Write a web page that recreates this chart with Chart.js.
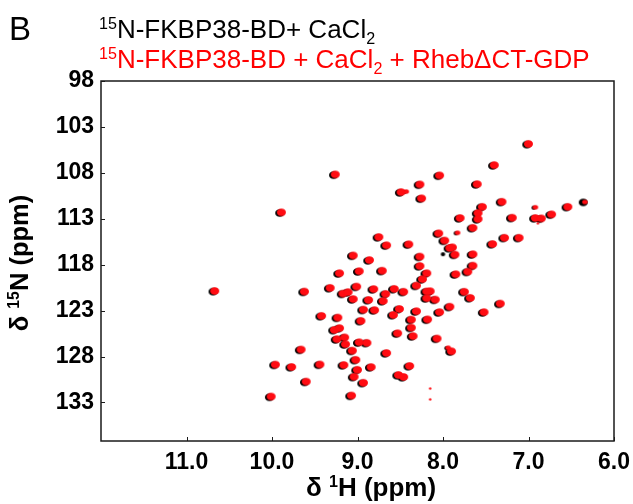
<!DOCTYPE html>
<html>
<head>
<meta charset="utf-8">
<script src="https://cdn.jsdelivr.net/npm/chart.js@4/dist/chart.umd.min.js"></script>
<style>
  html, body { margin: 0; padding: 0; background: #fff; }
  #wrap { width: 633px; height: 504px; }
</style>
</head>
<body>
<div id="wrap"><canvas id="c" width="633" height="504"></canvas></div>
<script>
// ---------- DATA (δ1H ppm, δ15N ppm) ----------
// Red spectrum: 15N-FKBP38-BD + CaCl2 + RhebΔCT-GDP
const redPeaks = [
  [7.00,104.85],[7.40,107.16],[9.26,108.17],[8.04,108.28],[8.27,109.26],[7.60,109.23],[8.49,110.10],[8.25,110.78],
  [7.31,111.15],[7.54,111.70],[6.54,111.70],[7.80,112.92],[7.59,112.38],[7.59,113.03],[7.19,112.89],[6.92,112.92],
  [6.85,112.96],[6.73,112.52],[9.89,112.30],[8.05,114.59],[7.65,113.99],[7.98,115.37],[8.75,114.99],[8.66,115.89],
  [8.40,115.78],[7.92,116.18],[7.89,116.11],[7.28,115.07],[7.11,115.07],[7.42,115.75],[7.86,116.90],[7.65,116.86],
  [9.05,117.00],[8.86,117.50],[8.27,117.12],[8.27,118.15],[7.65,118.11],[9.21,118.93],[8.98,118.71],[8.71,118.66],
  [8.19,118.93],[7.85,119.04],[7.71,118.76],[8.24,119.58],[8.31,120.28],[8.19,120.92],[8.15,120.89],[7.75,120.95],
  [7.68,121.62],[9.32,120.53],[9.17,121.15],[9.11,120.99],[9.01,120.39],[8.81,120.66],[8.67,121.18],[8.57,120.64],
  [8.46,120.95],[9.05,121.75],[8.87,121.84],[8.70,121.95],[8.19,121.65],[8.09,121.80],[9.62,120.93],[10.67,120.86],
  [8.93,122.90],[8.80,122.95],[8.51,122.82],[8.31,123.07],[8.04,123.17],[7.92,122.58],[8.58,123.47],[9.42,123.58],
  [9.23,123.76],[8.96,124.12],[8.37,123.98],[8.18,123.96],[8.37,124.86],[9.27,125.10],[9.21,124.91],[8.53,125.47],
  [8.35,125.78],[8.07,126.04],[9.24,126.11],[9.15,125.92],[9.14,126.66],[8.98,126.45],[8.89,126.51],[7.90,127.43],
  [9.06,127.36],[9.66,127.24],[8.66,127.62],[9.02,128.36],[9.96,128.88],[9.77,129.14],[9.44,128.87],[9.16,128.93],
  [8.84,129.15],[8.39,129.03],[9.00,129.45],[9.04,130.21],[8.52,130.01],[8.46,130.23],[8.93,130.86],[9.60,130.73],
  [10.01,132.36],[9.07,132.25],[7.33,122.24],[7.52,123.17]
];
const redWeakPeaks = [[8.43,110.04],[6.92,111.75],[6.34,111.18],[7.83,114.53],[7.94,127.05]];
const redTracePeaks = [[6.89,113.50],[8.15,131.49],[8.15,132.67]];

// Black spectrum: 15N-FKBP38-BD + CaCl2
const blackPeaks = [
  [7.02,104.93],[7.42,107.24],[9.28,108.25],[8.06,108.36],[8.29,109.34],[7.62,109.31],[8.51,110.18],[8.27,110.86],
  [7.33,111.23],[7.56,111.78],[6.56,111.78],[7.82,113.00],[7.61,112.46],[7.61,113.11],[7.21,112.97],[6.94,113.00],
  [6.87,113.04],[6.75,112.60],[9.91,112.38],[8.07,114.67],[7.67,114.07],[8.00,115.45],[8.77,115.07],[8.68,115.97],
  [8.42,115.86],[7.94,116.26],[7.91,116.19],[7.30,115.15],[7.13,115.15],[7.44,115.83],[7.88,116.98],[7.67,116.94],
  [9.07,117.08],[8.88,117.58],[8.29,117.20],[8.29,118.23],[7.67,118.19],[9.23,119.01],[9.00,118.79],[8.73,118.74],
  [8.21,119.01],[7.87,119.12],[7.73,118.84],[8.26,119.66],[8.33,120.36],[8.21,121.00],[8.17,120.97],[7.77,121.03],
  [7.70,121.70],[9.34,120.61],[9.19,121.23],[9.13,121.07],[9.03,120.47],[8.83,120.74],[8.69,121.26],[8.59,120.72],
  [8.48,121.03],[9.07,121.83],[8.89,121.92],[8.72,122.03],[8.21,121.73],[8.11,121.88],[9.64,121.01],[10.69,120.94],
  [8.95,122.98],[8.82,123.03],[8.53,122.90],[8.33,123.15],[8.06,123.25],[7.94,122.66],[8.60,123.55],[9.44,123.66],
  [9.25,123.84],[8.98,124.20],[8.39,124.06],[8.20,124.04],[8.39,124.94],[9.29,125.18],[9.23,124.99],[8.55,125.55],
  [8.37,125.86],[8.09,126.12],[9.26,126.19],[9.17,126.00],[9.16,126.74],[9.00,126.53],[8.91,126.59],[7.92,127.51],
  [9.08,127.44],[9.68,127.32],[8.68,127.70],[9.04,128.44],[9.98,128.96],[9.79,129.22],[9.46,128.95],[9.18,129.01],
  [8.86,129.23],[8.41,129.11],[9.02,129.53],[9.06,130.29],[8.54,130.09],[8.48,130.31],[8.95,130.94],[9.62,130.81],
  [10.03,132.44],[9.09,132.33],[7.35,122.32],[7.54,123.25],[6.36,111.22]
];
const blackWeakPeaks = [[8.45,110.08],[6.94,111.80],[7.85,114.58],[7.96,127.10],[8.00,116.86]];

const xTickValues = [11, 10, 9, 8, 7, 6];
const xTickLabels = ['11.0', '10.0', '9.0', '8.0', '7.0', '6.0'];
const yTickValues = [98, 103, 108, 113, 118, 123, 128, 133];
const yTickLabels = ['98', '103', '108', '113', '118', '123', '128', '133'];

const panelLabel = 'B';
const legendBlack = [{t:'15', sup:true}, {t:'N-FKBP38-BD+ CaCl'}, {t:'2', sub:true}];
const legendRed = [{t:'15', sup:true}, {t:'N-FKBP38-BD + CaCl'}, {t:'2', sub:true}, {t:' + Rheb\u0394CT-GDP'}];
const xTitle = [{t:'\u03b4 '}, {t:'1', sup:true}, {t:'H (ppm)'}];
const yTitle = [{t:'\u03b4 '}, {t:'15', sup:true}, {t:'N (ppm)'}];

// ---------- STYLE ----------
const FAM = '"Liberation Sans", Arial, Helvetica, sans-serif';
const RED = 'rgb(255,12,18)';

function ellipse(w, h, color) {
  const c = document.createElement('canvas');
  c.width = Math.ceil(w) + 2; c.height = Math.ceil(h) + 2;
  const g = c.getContext('2d');
  g.fillStyle = color;
  g.beginPath();
  g.ellipse(c.width / 2, c.height / 2, w / 2, h / 2, 0, 0, Math.PI * 2);
  g.fill();
  return c;
}

const toXY = arr => arr.map(p => ({x: p[0], y: p[1]}));

function richWidth(ctx, parts, size, weight) {
  let w = 0;
  parts.forEach(p => {
    const s = (p.sup || p.sub) ? size * 0.62 : size;
    ctx.font = `${weight} ${s}px ${FAM}`;
    w += ctx.measureText(p.t).width;
  });
  return w;
}
function drawRich(ctx, parts, x, y, size, weight, color, align) {
  const w = richWidth(ctx, parts, size, weight);
  let cx = align === 'center' ? x - w / 2 : x;
  ctx.fillStyle = color;
  ctx.textAlign = 'left';
  ctx.textBaseline = 'alphabetic';
  parts.forEach(p => {
    const s = (p.sup || p.sub) ? size * 0.62 : size;
    ctx.font = `${weight} ${s}px ${FAM}`;
    const dy = p.sup ? -size * 0.36 : (p.sub ? size * 0.24 : 0);
    ctx.fillText(p.t, cx, y + dy);
    cx += ctx.measureText(p.t).width;
  });
}

const deco = {
  id: 'deco',
  afterDraw(chart) {
    const {ctx, chartArea: a, scales} = chart;
    const xs = scales.x, ys = scales.y;
    ctx.save();
    ctx.strokeStyle = '#1a1a1a';
    ctx.lineWidth = 1.5;
    ctx.strokeRect(a.left, a.top, a.right - a.left, a.bottom - a.top);
    ctx.lineWidth = 1;
    xs.ticks.forEach(t => {
      const px = Math.round(xs.getPixelForValue(t.value)) + 0.5;
      ctx.beginPath(); ctx.moveTo(px, a.bottom); ctx.lineTo(px, a.bottom - 4); ctx.stroke();
    });
    ys.ticks.forEach(t => {
      const py = Math.round(ys.getPixelForValue(t.value)) + 0.5;
      ctx.beginPath(); ctx.moveTo(a.left, py); ctx.lineTo(a.left + 4, py); ctx.stroke();
    });
    // panel label and legend text
    ctx.fillStyle = '#000';
    ctx.font = `normal 33px ${FAM}`;
    ctx.textAlign = 'left'; ctx.textBaseline = 'alphabetic';
    ctx.fillText(panelLabel, 9, 40);
    drawRich(ctx, legendBlack, 99, 38, 26, 'normal', '#000', 'left');
    drawRich(ctx, legendRed, 99, 68, 26, 'normal', '#ff0000', 'left');
    // axis titles
    drawRich(ctx, xTitle, 371, 496, 26, 'bold', '#000', 'center');
    ctx.save();
    ctx.translate(28, (a.top + a.bottom) / 2 + 2);
    ctx.rotate(-Math.PI / 2);
    drawRich(ctx, yTitle, 0, 0, 25.5, 'bold', '#000', 'center');
    ctx.restore();
    ctx.restore();
  }
};

const redBig = ellipse(9, 7.6, RED);
const redSmall = ellipse(5.5, 4.5, RED);
const redTiny = ellipse(2.4, 2.4, RED);
const blkBig = ellipse(9, 7.6, '#000');
const blkSmall = ellipse(4.5, 4, '#000');

const ds = (data, style) => ({data: toXY(data), pointStyle: style, pointRadius: 4, pointHoverRadius: 4});
const noPad = s => { s.paddingLeft = 0; s.paddingRight = 0; s.paddingTop = 0; s.paddingBottom = 0; };

new Chart(document.getElementById('c'), {
  type: 'scatter',
  data: {
    datasets: [
      ds(redTracePeaks, redTiny),
      ds(redWeakPeaks, redSmall),
      ds(redPeaks, redBig),
      ds(blackWeakPeaks, blkSmall),
      ds(blackPeaks, blkBig)
    ]
  },
  options: {
    responsive: false,
    animation: false,
    devicePixelRatio: 1,
    layout: { padding: { top: 81, right: 19, left: 0, bottom: 0 } },
    plugins: { legend: { display: false }, tooltip: { enabled: false } },
    scales: {
      x: {
        type: 'linear', reverse: true, min: 6, max: 12,
        afterBuildTicks: s => { s.ticks = xTickValues.map(v => ({value: v})); },
        afterFit: s => { s.height = 63; noPad(s); },
        grid: { display: false, drawTicks: false },
        border: { display: false },
        ticks: {
          padding: 8, color: '#000', maxRotation: 0, autoSkip: false,
          font: { family: FAM, size: 23, weight: 'bold' },
          callback: v => xTickLabels[xTickValues.indexOf(v)]
        }
      },
      y: {
        type: 'linear', reverse: true, min: 98, max: 137.2,
        afterBuildTicks: s => { s.ticks = yTickValues.map(v => ({value: v})); },
        afterFit: s => { s.width = 101; noPad(s); },
        grid: { display: false, drawTicks: false },
        border: { display: false },
        ticks: {
          padding: 7, color: '#000', autoSkip: false,
          font: { family: FAM, size: 23, weight: 'bold' },
          callback: v => yTickLabels[yTickValues.indexOf(v)]
        }
      }
    }
  },
  plugins: [deco]
});
</script>
</body>
</html>
